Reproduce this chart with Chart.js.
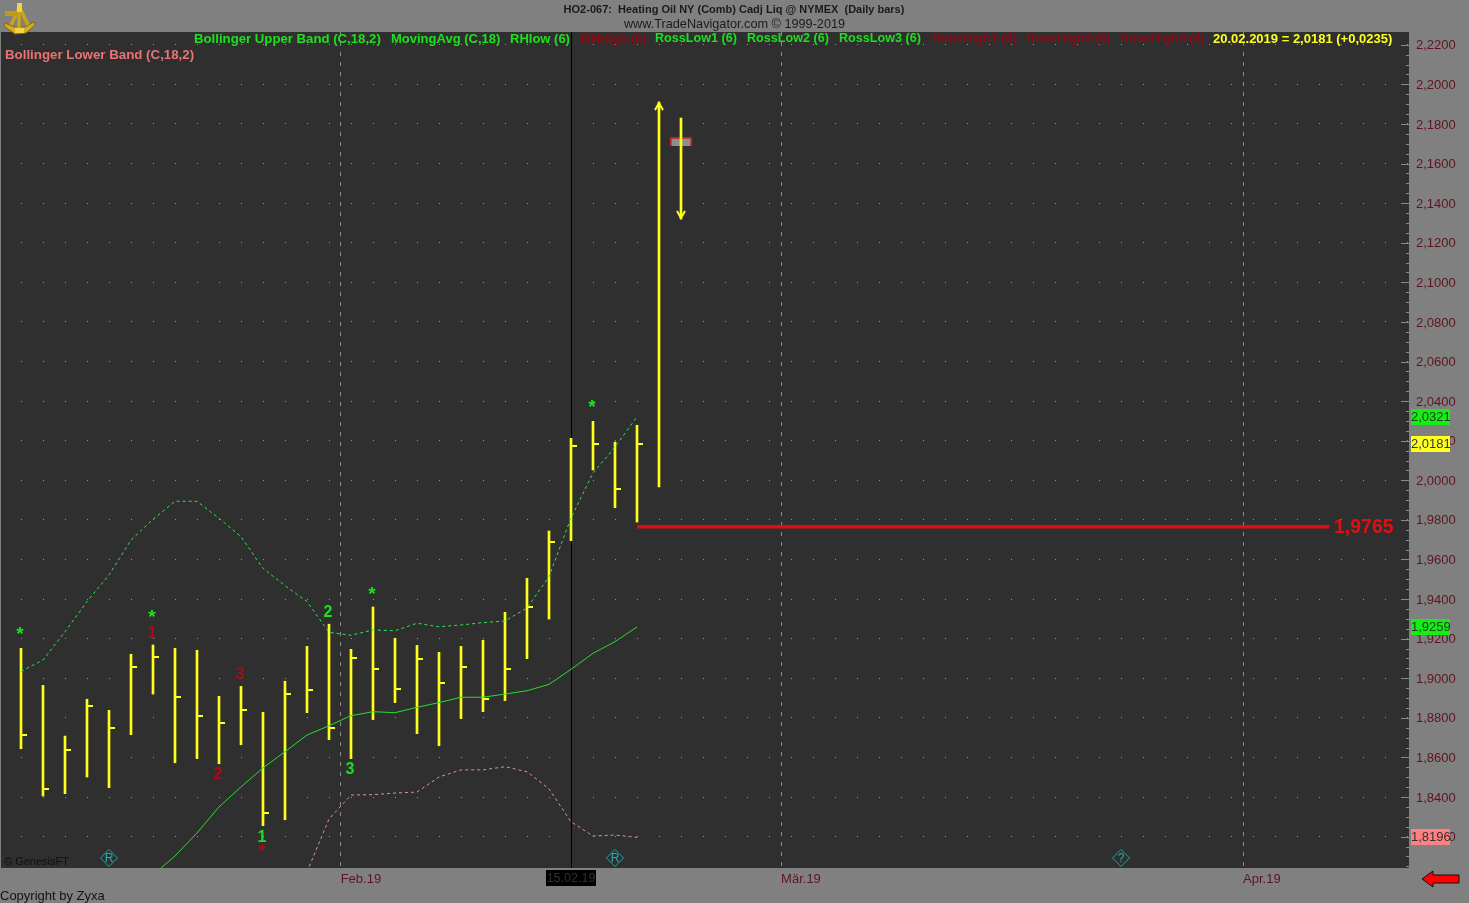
<!DOCTYPE html>
<html>
<head>
<meta charset="utf-8">
<title>HO2-067 Heating Oil</title>
<script src="https://cdn.jsdelivr.net/npm/chart.js@4"></script>
<style>
html, body { margin: 0; padding: 0; background: #808080; overflow: hidden; }
canvas { display: block; }
</style>
</head>
<body>
<canvas id="chart" width="1469" height="903"></canvas>
<script>
// trading days, 04.01.2019 onwards (last two are the projected bars)
var categories = ['04.01','07.01','08.01','09.01','10.01','11.01','14.01','15.01','16.01','17.01','18.01','21.01','22.01','23.01','24.01',
    '01.02','04.02','05.02','06.02','07.02','08.02','11.02','12.02','13.02','14.02','15.02','18.02','19.02','20.02','21.02','22.02'];

var highs = [1.9151,1.8964,1.8708,1.8894,1.8838,1.9121,1.9168,1.9151,1.9141,1.8909,1.8959,1.8828,1.8985,1.9161,1.9273,
    1.9146,1.9360,1.9202,1.9166,1.9131,1.9161,1.9192,1.9333,1.9505,1.9744,2.0212,2.0298,2.0193,2.0278,2.1911,2.1830];
var lows = [1.8644,1.8405,1.8417,1.8501,1.8447,1.8715,1.8920,1.8573,1.8594,1.8568,1.8664,1.8255,1.8285,1.8826,1.8690,
    1.8594,1.8791,1.8877,1.8720,1.8659,1.8796,1.8831,1.8887,1.9099,1.9299,1.9695,2.0052,1.9862,1.9789,1.9966,2.1320];
var closes = [1.8713,1.8441,1.8638,1.8860,1.8749,1.9057,1.9107,1.8905,1.8809,1.8774,1.8840,1.8319,1.8920,1.8941,1.8749,
    1.9102,1.9047,1.8946,1.9097,1.8976,1.9057,1.8895,1.9047,1.9360,1.9688,2.0173,2.0185,1.9956,2.0181,null,null];

var upperBand = [1.9035,1.9092,1.9235,1.9387,1.9522,1.9698,1.9803,1.9894,1.9894,1.9808,1.9715,1.9555,1.9468,1.9387,1.9232,
    1.9217,1.9244,1.9240,1.9278,1.9260,1.9269,1.9281,1.9289,1.9355,1.9513,1.9810,2.0037,2.0168,2.0321];
var movingAvg = [null,null,null,null,null,null,1.8006,1.8102,1.8218,1.8350,1.8451,1.8547,1.8629,1.8713,1.8760,
    1.8811,1.8831,1.8826,1.8853,1.8877,1.8904,1.8904,1.8920,1.8937,1.8969,1.9045,1.9126,1.9185,1.9259];
var lowerBand = [null,null,null,null,null,null,null,null,null,null,null,null,null,1.8021,1.8289,
    1.8410,1.8412,1.8420,1.8425,1.8501,1.8537,1.8537,1.8553,1.8528,1.8441,1.8275,1.8203,1.8208,1.8196];

var targetLevel = 1.9765;
var targetFrom = 28;
var targetTo = 59.47;

var boxIndex = [30];
var boxRange = [2.1689, 2.1734];

var greenMarkIdx = [0, 6, 16, 26, 11, 14, 15];
var greenMarkVal = [1.9234, 1.9320, 1.9436, 2.0380, 1.8198, 1.9335, 1.8542];
var greenMarkText = ['*', '*', '*', '*', '1', '2', '3'];
var redMarkIdx = [6, 9, 10, 11];
var redMarkVal = [1.9229, 1.8516, 1.9022, 1.8137];
var redMarkText = ['1', '2', '3', '*'];

var flagIdx = [4, 27, 50];
var flagVal = [1.8092, 1.8092, 1.8092];
var flagText = ['R', 'R', '?'];

var xTickPos = [14.53, 34.55, 55.55];
var xTickLabels = ['Feb.19', 'Mär.19', 'Apr.19'];
var yTickValues = [1.82,1.84,1.86,1.88,1.90,1.92,1.94,1.96,1.98,2.00,2.02,2.04,2.06,2.08,2.10,2.12,2.14,2.16,2.18,2.20,2.22];
var yTickLabels = ['1,8200','1,8400','1,8600','1,8800','1,9000','1,9200','1,9400','1,9600','1,9800','2,0000','2,0200','2,0400',
    '2,0600','2,0800','2,1000','2,1200','2,1400','2,1600','2,1800','2,2000','2,2200'];

var yMinor = [];
for (var k = 0; k <= 83; k++) yMinor.push(Number((1.805 + k * 0.005).toFixed(3)));

var FONT = '"Liberation Sans", Arial, sans-serif';
var GREEN = '#1ee01e';
var DARKRED = '#8c0a14';
var AXISRED = '#5e1420';
var YELLOW = '#ffff1e';

function series(vals) {
    return vals.map(function(v, i) { return {x: i, y: v}; });
}

// small sprites for the close ticks and arrow heads
function closeTick() {
    var c = document.createElement('canvas');
    c.width = 16; c.height = 2;
    var g = c.getContext('2d');
    g.fillStyle = YELLOW;
    g.fillRect(8, 0, 6, 2);
    return c;
}

function arrowHead(up) {
    var c = document.createElement('canvas');
    c.width = 12; c.height = 24;
    var g = c.getContext('2d');
    g.strokeStyle = YELLOW;
    g.fillStyle = YELLOW;
    g.lineWidth = 2;
    var d = up ? 1 : -1;
    g.beginPath();
    g.moveTo(2, 12 + d * 8);
    g.lineTo(6, 12 + d * 1);
    g.lineTo(10, 12 + d * 8);
    g.stroke();
    g.beginPath();
    g.moveTo(6, 12);
    g.lineTo(4, 12 + d * 5);
    g.lineTo(8, 12 + d * 5);
    g.closePath();
    g.fill();
    return c;
}

function text(ctx, str, x, y, font, color, align) {
    ctx.font = font;
    ctx.fillStyle = color;
    ctx.textAlign = align || 'left';
    ctx.textBaseline = 'middle';
    ctx.fillText(str, x, y);
}

function drawLogo(ctx) {
    ctx.save();
    ctx.strokeStyle = '#8a6a10';
    ctx.lineWidth = 1;
    // arc and base of the sextant
    ctx.fillStyle = '#d4ae1c';
    ctx.beginPath();
    ctx.moveTo(5, 23); ctx.lineTo(14, 27); ctx.lineTo(25, 27); ctx.lineTo(34, 22);
    ctx.lineTo(35, 25); ctx.lineTo(26, 33); ctx.lineTo(15, 34); ctx.lineTo(4, 26);
    ctx.closePath();
    ctx.fill();
    ctx.stroke();
    // arms
    ctx.strokeStyle = '#c9a418';
    ctx.lineWidth = 3.5;
    ctx.beginPath();
    ctx.moveTo(19, 8); ctx.lineTo(11, 25);
    ctx.moveTo(20, 8); ctx.lineTo(28, 25);
    ctx.moveTo(19, 8); ctx.lineTo(19, 30);
    ctx.stroke();
    // telescope and head
    ctx.fillStyle = '#bf9c18';
    ctx.fillRect(5, 11, 13, 5);
    ctx.fillStyle = '#f0d448';
    ctx.fillRect(17, 3, 5, 9);
    ctx.fillRect(15, 28, 9, 5);
    ctx.restore();
}

var paperPlugin = {
    id: 'paper',
    beforeDraw: function(chart) {
        var ctx = chart.ctx, a = chart.chartArea;
        ctx.save();
        ctx.fillStyle = '#808080';
        ctx.fillRect(0, 0, chart.width, chart.height);
        ctx.fillStyle = '#2f2f2f';
        ctx.fillRect(a.left, a.top, a.right - a.left, a.bottom - a.top);
        ctx.restore();
    },
    beforeDatasetsDraw: function(chart) {
        var ctx = chart.ctx, a = chart.chartArea;
        var px = Math.round(chart.scales.x.getPixelForValue(25)) + 0.5;
        var y = chart.scales.y;
        ctx.save();
        // inner axis ticks
        ctx.strokeStyle = '#8c8c8c';
        ctx.lineWidth = 1;
        yMinor.forEach(function(v) {
            var p = Math.round(y.getPixelForValue(v)) + 0.5;
            var len = yTickValues.indexOf(v) >= 0 ? 8 : 3;
            ctx.beginPath();
            ctx.moveTo(a.right - len, p);
            ctx.lineTo(a.right, p);
            ctx.stroke();
        });
        // crosshair on 15.02
        ctx.strokeStyle = '#000000';
        ctx.beginPath();
        ctx.moveTo(px, a.top);
        ctx.lineTo(px, a.bottom);
        ctx.stroke();
        ctx.restore();
    },
    afterDatasetsDraw: function(chart) {
        var ctx = chart.ctx;
        var x = chart.scales.x, y = chart.scales.y;
        ctx.save();

        text(ctx, 'HO2-067:  Heating Oil NY (Comb) Cadj Liq @ NYMEX  (Daily bars)', 734, 9.5, 'bold 11px ' + FONT, '#1a1a1a', 'center');
        text(ctx, 'www.TradeNavigator.com © 1999-2019', 734.5, 24.5, '12.7px ' + FONT, '#1a1a1a', 'center');
        drawLogo(ctx);

        var legend = [
            ['Bollinger Upper Band (C,18,2)', 194, GREEN, 13.2],
            ['MovingAvg (C,18)', 391, GREEN, 13],
            ['RHlow (6)', 510, GREEN, 13],
            ['RHhigh (6)', 581, DARKRED, 13],
            ['RossLow1 (6)', 655, GREEN, 12.6],
            ['RossLow2 (6)', 747, GREEN, 12.6],
            ['RossLow3 (6)', 839, GREEN, 12.6],
            ['RossHigh1 (6)', 932, DARKRED, 12.6],
            ['RossHigh2 (6)', 1026, DARKRED, 12.6],
            ['RossHigh3 (6)', 1120, DARKRED, 12.6],
            ['20.02.2019 = 2,0181 (+0,0235)', 1213, YELLOW, 13]
        ];
        legend.forEach(function(l) {
            text(ctx, l[0], l[1], 39, 'bold ' + l[3] + 'px ' + FONT, l[2]);
        });
        text(ctx, 'Bollinger Lower Band (C,18,2)', 5, 55, 'bold 13.3px ' + FONT, '#e87474');

        // pattern marks
        greenMarkIdx.forEach(function(idx, i) {
            var star = greenMarkText[i] == '*';
            text(ctx, greenMarkText[i], x.getPixelForValue(idx) - 1, y.getPixelForValue(greenMarkVal[i]) + (star ? 3 : 1),
                'bold ' + (star ? 19 : 16) + 'px ' + FONT, GREEN, 'center');
        });
        redMarkIdx.forEach(function(idx, i) {
            var star = redMarkText[i] == '*';
            text(ctx, redMarkText[i], x.getPixelForValue(idx) - 1, y.getPixelForValue(redMarkVal[i]) + (star ? 3 : 1),
                'bold ' + (star ? 19 : 16) + 'px ' + FONT, '#a80c18', 'center');
        });

        flagIdx.forEach(function(idx, i) {
            text(ctx, flagText[i], x.getPixelForValue(idx), y.getPixelForValue(flagVal[i]) + 0.5, '12px ' + FONT, '#22b0b0', 'center');
        });

        text(ctx, '© GenesisFT', 4, 862, '11px ' + FONT, '#101010');

        // target label
        text(ctx, '1,9765', 1334, y.getPixelForValue(targetLevel) + 0.5, 'bold 19.5px ' + FONT, '#e01010');

        // last value badges
        var badges = [
            [upperBand[28], '2,0321', '#12f012'],
            [closes[28], '2,0181', '#ffff20'],
            [movingAvg[28], '1,9259', '#12f012'],
            [lowerBand[28], '1,8196', '#ff8080']
        ];
        badges.forEach(function(b) {
            var p = Math.round(y.getPixelForValue(b[0]));
            ctx.fillStyle = b[2];
            ctx.fillRect(1411, p - 8, 39, 16);
            text(ctx, b[1], 1411, p + 0.5, '13px ' + FONT, '#333333');
        });

        // date flag under crosshair
        ctx.fillStyle = '#000000';
        ctx.fillRect(546, 870, 50, 16);
        text(ctx, categories[25] + '.19', 571, 878.5, '12.5px ' + FONT, '#303030', 'center');

        text(ctx, 'Copyright by Zyxa', 0, 896, '13px ' + FONT, '#141414');

        // scroll arrow
        ctx.fillStyle = '#ff0000';
        ctx.strokeStyle = '#101010';
        ctx.lineWidth = 1;
        ctx.beginPath();
        ctx.moveTo(1422, 879);
        ctx.lineTo(1433, 871);
        ctx.lineTo(1433, 875);
        ctx.lineTo(1459, 875);
        ctx.lineTo(1459, 883);
        ctx.lineTo(1433, 883);
        ctx.lineTo(1433, 887);
        ctx.closePath();
        ctx.fill();
        ctx.stroke();

        ctx.restore();
    }
};

var tick = closeTick();
var upHead = arrowHead(true);
var downHead = arrowHead(false);

new Chart(document.getElementById('chart'), {
    type: 'bar',
    plugins: [paperPlugin],
    data: {
        datasets: [
            {
                label: 'HL',
                data: highs.map(function(h, i) { return {x: i, y: [lows[i], h]}; }),
                backgroundColor: YELLOW,
                barThickness: 2,
                grouped: false,
                order: 5
            },
            {
                label: 'Box',
                data: boxIndex.map(function(i) { return {x: i, y: boxRange}; }),
                backgroundColor: '#8e8e8e',
                borderColor: '#c81e28',
                borderWidth: 2,
                barThickness: 22,
                grouped: false,
                order: 6
            },
            {
                label: 'Close',
                type: 'scatter',
                data: series(closes),
                pointStyle: tick,
                pointRadius: 3,
                order: 4
            },
            {
                label: 'ArrowUp',
                type: 'scatter',
                data: [{x: 29, y: highs[29]}],
                pointStyle: upHead,
                pointRadius: 3,
                order: 4
            },
            {
                label: 'ArrowDown',
                type: 'scatter',
                data: [{x: 30, y: lows[30]}],
                pointStyle: downHead,
                pointRadius: 3,
                order: 4
            },
            {
                label: 'Bollinger Upper Band',
                type: 'line',
                data: series(upperBand),
                borderColor: '#2ce84a',
                borderWidth: 1,
                borderDash: [3, 3],
                pointRadius: 0,
                tension: 0,
                order: 3
            },
            {
                label: 'MovingAvg',
                type: 'line',
                data: series(movingAvg),
                borderColor: '#22e02a',
                borderWidth: 1,
                pointRadius: 0,
                tension: 0,
                order: 3
            },
            {
                label: 'Bollinger Lower Band',
                type: 'line',
                data: series(lowerBand),
                borderColor: '#e89090',
                borderWidth: 1,
                borderDash: [3, 3],
                pointRadius: 0,
                tension: 0,
                order: 3
            },
            {
                label: 'Target',
                type: 'line',
                data: [{x: targetFrom, y: targetLevel}, {x: targetTo, y: targetLevel}],
                borderColor: '#e00e0e',
                borderWidth: 3.5,
                pointRadius: 0,
                order: 2
            },
            {
                label: 'Flags',
                type: 'scatter',
                data: flagIdx.map(function(idx, i) { return {x: idx, y: flagVal[i]}; }),
                pointStyle: 'rectRot',
                pointRadius: 8.5,
                borderColor: '#18a8aa',
                backgroundColor: 'transparent',
                borderWidth: 1,
                order: 1
            }
        ]
    },
    options: {
        responsive: false,
        animation: false,
        events: [],
        layout: { autoPadding: false, padding: { left: 1, top: 32, right: 0, bottom: 0 } },
        plugins: { legend: { display: false }, tooltip: { enabled: false }, title: { display: false } },
        scales: {
            x: {
                type: 'linear',
                offset: false,
                min: -0.90909,
                max: 63.09091,
                afterBuildTicks: function(axis) {
                    axis.ticks = xTickPos.map(function(v) { return {value: v}; });
                },
                afterFit: function(axis) {
                    axis.height = 35;
                    axis.paddingLeft = 0;
                    axis.paddingRight = 0;
                },
                grid: { offset: false, color: '#8a8a8a', drawTicks: false },
                border: { display: false, dash: [4, 6] },
                ticks: {
                    autoSkip: false,
                    maxRotation: 0,
                    minRotation: 0,
                    align: 'start',
                    padding: 4,
                    color: AXISRED,
                    font: { family: FONT, size: 13 },
                    callback: function(value, index) { return xTickLabels[index]; }
                }
            },
            y: {
                position: 'right',
                min: 1.80414,
                max: 2.22647,
                afterBuildTicks: function(axis) {
                    axis.ticks = yMinor.map(function(v) { return {value: v}; });
                },
                afterFit: function(axis) {
                    axis.width = 60;
                    axis.paddingTop = 0;
                    axis.paddingBottom = 0;
                },
                grid: {
                    drawTicks: false,
                    color: function(c) {
                        return c.tick && yTickValues.indexOf(c.tick.value) >= 0 ? '#969696' : 'transparent';
                    }
                },
                border: { display: false, dash: [1, 21], dashOffset: 2 },
                ticks: {
                    autoSkip: false,
                    padding: 7,
                    color: AXISRED,
                    // blank first line with a 2px line height moves the label down 1px
                    font: { family: FONT, size: 13, lineHeight: '2px' },
                    callback: function(value) {
                        var n = yTickValues.indexOf(value);
                        return n >= 0 ? ['', yTickLabels[n]] : '';
                    }
                }
            }
        }
    }
});
</script>
</body>
</html>
